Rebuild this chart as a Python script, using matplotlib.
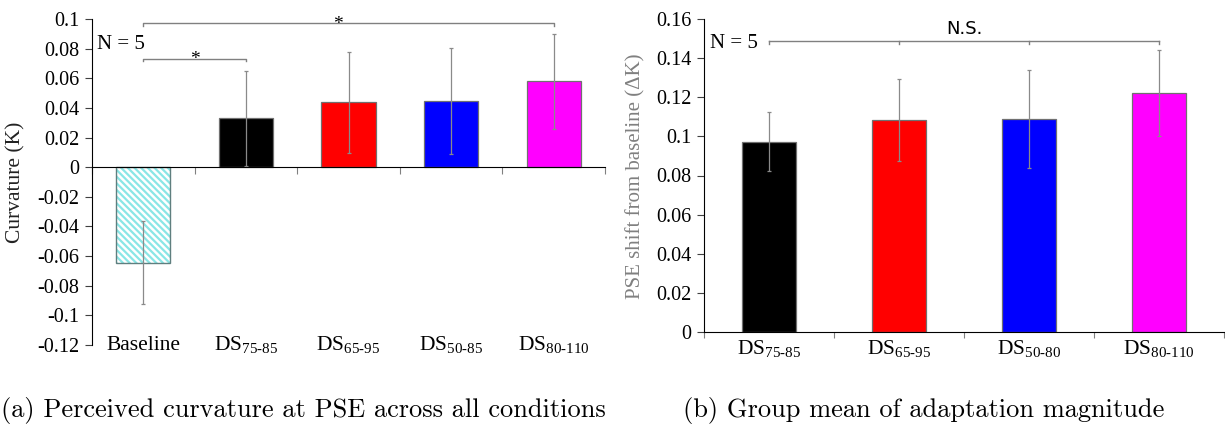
import numpy as np
from matplotlib import pyplot as plt
from matplotlib.ticker import FuncFormatter

plt.rcParams['font.family'] = ['Liberation Serif', 'DejaVu Serif']
plt.rcParams['mathtext.fontset'] = 'custom'
plt.rcParams['mathtext.rm'] = 'Liberation Serif'
plt.rcParams['axes.unicode_minus'] = False
plt.rcParams['hatch.linewidth'] = 1.6

# left panel: perceived curvature at PSE
curv_labels = ['Baseline', 'DS$_{\\mathrm{75‐85}}$', 'DS$_{\\mathrm{65‐95}}$',
               'DS$_{\\mathrm{50‐85}}$', 'DS$_{\\mathrm{80‐110}}$']
curv_values = [-0.0645, 0.033, 0.0437, 0.0446, 0.058]
curv_errors = [0.028, 0.032, 0.034, 0.0355, 0.032]
curv_colors = ['white', '#000000', '#ff0000', '#0000ff', '#ff00ff']
curv_ticks = [-0.12, -0.1, -0.08, -0.06, -0.04, -0.02, 0, 0.02, 0.04, 0.06, 0.08, 0.1]

# right panel: adaptation magnitude
shift_labels = ['DS$_{\\mathrm{75‐85}}$', 'DS$_{\\mathrm{65‐95}}$',
                'DS$_{\\mathrm{50‐80}}$', 'DS$_{\\mathrm{80‐110}}$']
shift_values = [0.0973, 0.1082, 0.1089, 0.122]
shift_errors = [0.015, 0.021, 0.025, 0.022]
shift_colors = ['#000000', '#ff0000', '#0000ff', '#ff00ff']
shift_ticks = [0, 0.02, 0.04, 0.06, 0.08, 0.1, 0.12, 0.14, 0.16]

err_color = '#8a8a8a'
edge_color = '#707070'
fmt = FuncFormatter(lambda v, p: '{:g}'.format(round(v, 3)))

fig = plt.figure(figsize=(12.25, 4.29), dpi=100)

# ---------- left ----------
ax1 = fig.add_axes([92 / 1225, 84 / 429, 513 / 1225, 326 / 429])
x1 = np.arange(len(curv_values))
ax1.bar(x1[0], curv_values[0], width=0.53, color='white', edgecolor='#8ae6e6',
        hatch='\\\\\\\\\\', linewidth=0)
ax1.bar(x1[0], curv_values[0], width=0.53, fill=False, edgecolor='#5f7f7f', linewidth=1)
ax1.bar(x1[1:], curv_values[1:], width=0.53, color=curv_colors[1:],
        edgecolor=edge_color, linewidth=0.9)
ax1.errorbar(x1, curv_values, yerr=curv_errors, fmt='none', ecolor=err_color,
             elinewidth=0.9, capsize=1.5, capthick=0.9)
ax1.set_xlim(-0.5, 4.5)
ax1.set_ylim(-0.12, 0.1)
ax1.set_yticks(curv_ticks)
ax1.yaxis.set_major_formatter(fmt)
ax1.spines['top'].set_visible(False)
ax1.spines['right'].set_visible(False)
ax1.spines['bottom'].set_position(('data', 0))
ax1.set_xticks(np.arange(-0.5, 5, 1))
ax1.set_xticklabels([])
ax1.tick_params(axis='x', direction='out', length=5, color='#808080')
ax1.tick_params(axis='y', direction='out', length=5, labelsize=14.5, pad=4, color='#404040')
for i, lab in enumerate(curv_labels):
    ax1.text(i, -0.12, lab, ha='center', va='center', fontsize=15.5)

# significance brackets
ax1.plot([0, 0, 4, 4], [0.0955, 0.097, 0.097, 0.0955], color='#808080', lw=1)
ax1.text(1.9, 0.0965, '*', ha='center', va='center', fontsize=14)
ax1.plot([0, 0, 1, 1], [0.0717, 0.0732, 0.0732, 0.0717], color='#808080', lw=1)
ax1.text(0.5, 0.0727, '*', ha='center', va='center', fontsize=14)
ax1.text(-0.45, 0.083, 'N = 5', ha='left', va='center', fontsize=15)

fig.text(16 / 1225, 1 - 182 / 429, 'Curvature (K)', rotation=90, ha='center',
         va='center', fontsize=15.5, color='#222222')

# ---------- right ----------
ax2 = fig.add_axes([704 / 1225, 97 / 429, 520 / 1225, 313 / 429])
x2 = np.arange(len(shift_values))
ax2.bar(x2, shift_values, width=0.415, color=shift_colors, edgecolor=edge_color,
        linewidth=0.9)
ax2.errorbar(x2, shift_values, yerr=shift_errors, fmt='none', ecolor=err_color,
             elinewidth=0.9, capsize=1.5, capthick=0.9)
ax2.set_xlim(-0.5, 3.5)
ax2.set_ylim(0, 0.16)
ax2.set_yticks(shift_ticks)
ax2.yaxis.set_major_formatter(fmt)
ax2.spines['top'].set_visible(False)
ax2.spines['right'].set_visible(False)
ax2.set_xticks(np.arange(-0.5, 4, 1))
ax2.set_xticklabels([])
ax2.tick_params(axis='x', direction='out', length=4, color='#808080')
ax2.tick_params(axis='y', direction='out', length=5, labelsize=14.5, pad=4, color='#404040')
for i, lab in enumerate(shift_labels):
    ax2.text(i, -0.009, lab, ha='center', va='center', fontsize=15.5)

ax2.plot([0, 3], [0.1485, 0.1485], color='#808080', lw=1)
for xb in [0, 1, 2, 3]:
    ax2.plot([xb, xb], [0.1485, 0.147], color='#808080', lw=1)
ax2.text(1.5, 0.155, 'N.S.', ha='center', va='center', fontsize=13,
         family=['DejaVu Sans'])
ax2.text(-0.45, 0.1476, 'N = 5', ha='left', va='center', fontsize=15)

fig.text(636 / 1225, 1 - 176 / 429, 'PSE shift from baseline (ΔK)', rotation=90,
         ha='center', va='center', fontsize=15, color='#808080')

# captions
fig.text(303 / 1225, 1 - 410 / 429, '(a) Perceived curvature at PSE across all conditions',
         ha='center', va='center', fontsize=19, family=['cmr10', 'DejaVu Serif'])
fig.text(924 / 1225, 1 - 410 / 429, '(b) Group mean of adaptation magnitude',
         ha='center', va='center', fontsize=19, family=['cmr10', 'DejaVu Serif'])

fig.savefig('out.png', dpi=100)
